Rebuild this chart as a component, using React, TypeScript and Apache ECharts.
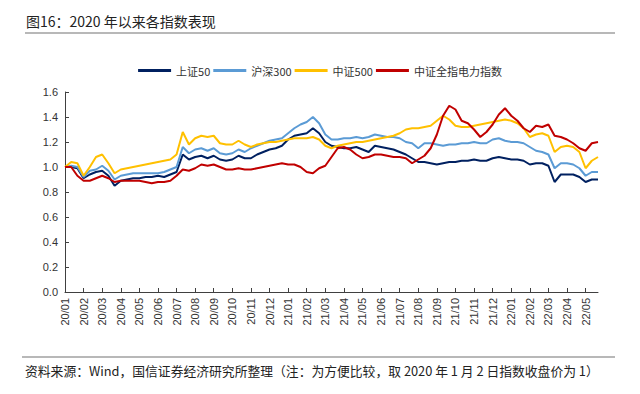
import React, { useEffect, useRef } from 'react';
import * as echarts from 'echarts';

const months = [
  '20/01', '20/02', '20/03', '20/04', '20/05', '20/06', '20/07', '20/08', '20/09', '20/10', '20/11', '20/12',
  '21/01', '21/02', '21/03', '21/04', '21/05', '21/06', '21/07', '21/08', '21/09', '21/10', '21/11', '21/12',
  '22/01', '22/02', '22/03', '22/04', '22/05',
];

const seriesNames = ['上证50', '沪深300', '中证500', '中证全指电力指数'];

// three readings per month (start, ~11th, ~21st)
const sz50 = [
  1.00, 1.00, 0.99, 0.91, 0.94, 0.96, 0.97, 0.93, 0.85, 0.89, 0.90, 0.91,
  0.91, 0.92, 0.92, 0.93, 0.92, 0.94, 0.96, 1.10, 1.06, 1.08, 1.09, 1.07,
  1.09, 1.06, 1.05, 1.06, 1.09, 1.07, 1.07, 1.10, 1.12, 1.14, 1.15, 1.17,
  1.22, 1.25, 1.26, 1.27, 1.31, 1.27, 1.20, 1.17, 1.16, 1.15, 1.15, 1.16,
  1.14, 1.12, 1.17, 1.16, 1.15, 1.14, 1.12, 1.10, 1.07, 1.04, 1.04, 1.03,
  1.02, 1.03, 1.04, 1.04, 1.05, 1.05, 1.06, 1.05, 1.05, 1.07, 1.08, 1.07,
  1.06, 1.06, 1.05, 1.02, 1.03, 1.03, 1.01, 0.88, 0.94, 0.94, 0.94, 0.92,
  0.88, 0.90, 0.90,
];
const hs300 = [
  1.00, 1.01, 1.00, 0.92, 0.97, 0.98, 1.01, 0.97, 0.90, 0.93, 0.94, 0.95,
  0.95, 0.95, 0.95, 0.95, 0.96, 0.98, 1.00, 1.16, 1.11, 1.14, 1.15, 1.13,
  1.15, 1.11, 1.10, 1.11, 1.14, 1.12, 1.15, 1.17, 1.19, 1.21, 1.22, 1.23,
  1.27, 1.31, 1.34, 1.36, 1.40, 1.35, 1.26, 1.22, 1.22, 1.23, 1.23, 1.24,
  1.23, 1.24, 1.26, 1.25, 1.24, 1.24, 1.23, 1.20, 1.19, 1.15, 1.19, 1.19,
  1.18, 1.17, 1.18, 1.18, 1.19, 1.19, 1.20, 1.19, 1.19, 1.22, 1.23, 1.21,
  1.20, 1.20, 1.19, 1.16, 1.13, 1.12, 1.10, 0.99, 1.03, 1.03, 1.02, 0.99,
  0.93, 0.96, 0.96,
];
const zz500 = [
  1.00, 1.04, 1.03, 0.93, 1.00, 1.08, 1.10, 1.03, 0.95, 0.98, 0.99, 1.00,
  1.01, 1.02, 1.03, 1.04, 1.05, 1.06, 1.10, 1.28, 1.18, 1.23, 1.25, 1.24,
  1.25, 1.19, 1.18, 1.18, 1.21, 1.18, 1.16, 1.18, 1.19, 1.20, 1.20, 1.21,
  1.22, 1.23, 1.23, 1.23, 1.24, 1.22, 1.17, 1.15, 1.17, 1.18, 1.19, 1.20,
  1.20, 1.21, 1.22, 1.23, 1.24, 1.25, 1.27, 1.30, 1.31, 1.31, 1.32, 1.33,
  1.37, 1.41, 1.38, 1.33, 1.32, 1.32, 1.33, 1.34, 1.35, 1.36, 1.37, 1.38,
  1.37, 1.35, 1.31, 1.24, 1.26, 1.27, 1.25, 1.12, 1.16, 1.17, 1.16, 1.12,
  0.99, 1.05, 1.08,
];
const power = [
  1.00, 1.00, 0.93, 0.89, 0.89, 0.91, 0.93, 0.91, 0.88, 0.89, 0.89, 0.89,
  0.89, 0.88, 0.87, 0.88, 0.88, 0.89, 0.93, 0.98, 0.97, 0.99, 1.02, 1.01,
  1.02, 1.00, 0.98, 0.98, 0.99, 0.98, 0.98, 0.99, 1.00, 1.01, 1.02, 1.03,
  1.02, 1.02, 1.00, 0.96, 0.95, 0.99, 1.01, 1.08, 1.15, 1.16, 1.14, 1.10,
  1.07, 1.08, 1.10, 1.10, 1.09, 1.08, 1.08, 1.07, 1.03, 1.06, 1.09, 1.15,
  1.26, 1.41, 1.49, 1.46, 1.37, 1.35, 1.30, 1.24, 1.28, 1.34, 1.42, 1.47,
  1.41, 1.37, 1.31, 1.28, 1.33, 1.32, 1.34, 1.25, 1.24, 1.22, 1.19, 1.15,
  1.13, 1.19, 1.20,
];

const colors = ['#002060', '#5B9BD5', '#FFC000', '#C00000'];

export default function App() {
  const ref = useRef<HTMLDivElement>(null);
  useEffect(() => {
    document.body.style.margin = '0';
    const chart = echarts.init(ref.current as HTMLDivElement, null, { renderer: 'svg' });
    const cats: string[] = [];
    months.forEach((m) => {
      for (let k = 0; k < 3; k++) cats.push(m + '#' + k);
    });
    const data = [sz50, hs300, zz500, power];
    const axisColor = '#404040';
    const cjk = '"Noto Sans CJK SC", "Noto Sans", sans-serif';
    chart.setOption({
      animation: false,
      backgroundColor: '#ffffff',
      color: colors,
      graphic: [
        {
          type: 'text',
          left: 26,
          top: 14,
          style: { text: '图16：2020 年以来各指数表现', fontSize: 14, fontFamily: cjk, fill: '#222' },
        },
        {
          type: 'line',
          shape: { x1: 25, y1: 33, x2: 615, y2: 33 },
          style: { stroke: '#a0a0a0', lineWidth: 1.5 },
        },
        {
          type: 'line',
          shape: { x1: 22, y1: 357, x2: 615, y2: 357 },
          style: { stroke: '#a0a0a0', lineWidth: 1.5 },
        },
        {
          type: 'text',
          left: 25,
          top: 364,
          style: {
            text: '资料来源：Wind，国信证券经济研究所整理（注：为方便比较，取 2020 年 1 月 2 日指数收盘价为 1）',
            fontSize: 12.8,
            fontFamily: cjk,
            fill: '#222',
          },
        },
      ],
      legend: {
        top: 60,
        left: 'center',
        icon: 'rect',
        itemWidth: 33,
        itemHeight: 3,
        itemGap: 3,
        textStyle: { fontSize: 11, color: '#333', fontFamily: cjk },
        data: seriesNames,
      },
      grid: { left: 65, right: 42, top: 92, bottom: 102, containLabel: false },
      xAxis: {
        type: 'category',
        data: cats,
        boundaryGap: false,
        axisLine: { lineStyle: { color: axisColor, width: 1 } },
        axisTick: {
          inside: true,
          length: 4,
          interval: (i: number) => i % 3 === 0,
          lineStyle: { color: axisColor },
        },
        axisLabel: {
          rotate: 90,
          interval: (i: number) => i % 3 === 0,
          formatter: (v: string) => v.split('#')[0],
          fontSize: 11,
          color: '#333',
          margin: 6,
          fontFamily: '"Liberation Sans", Arial, sans-serif',
        },
        splitLine: { show: false },
      },
      yAxis: {
        type: 'value',
        min: 0,
        max: 1.6,
        interval: 0.2,
        axisLine: { show: true, lineStyle: { color: axisColor, width: 1 } },
        axisTick: { show: true, inside: true, length: 4, lineStyle: { color: axisColor } },
        axisLabel: {
          formatter: (v: number) => v.toFixed(1),
          fontSize: 11,
          color: '#333',
          margin: 7,
          fontFamily: '"Liberation Sans", Arial, sans-serif',
        },
        splitLine: { show: false },
      },
      series: seriesNames.map((name, idx) => ({
        name,
        type: 'line',
        data: data[idx],
        showSymbol: false,
        symbol: 'none',
        lineStyle: { width: 2, color: colors[idx] },
        itemStyle: { color: colors[idx] },
      })),
    });
    return () => chart.dispose();
  }, []);
  return <div ref={ref} style={{ position: 'absolute', left: 0, top: 0, width: 640, height: 394 }} />;
}
